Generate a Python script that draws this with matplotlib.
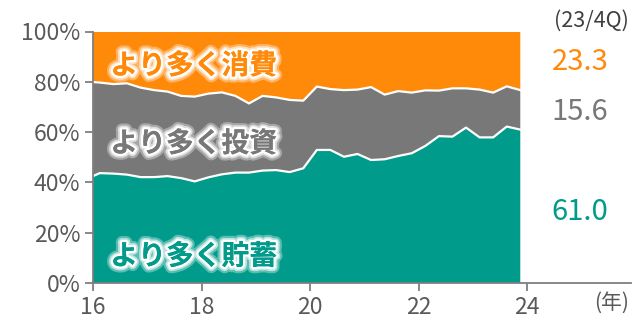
import matplotlib
matplotlib.use("Agg")
import matplotlib.pyplot as plt
import matplotlib.patheffects as pe
import numpy as np

plt.rcParams['font.family'] = ['Noto Sans CJK JP', 'DejaVu Sans']

# Quarterly survey shares (%), 2015Q4 .. 2023Q4
quarters = ["2015Q4"] + [f"{y}Q{q}" for y in range(2016, 2024) for q in range(1, 5)]
savings = [41.3, 43.7, 43.5, 43.1, 42.1, 42.1, 42.5, 41.7, 40.4, 42.0, 43.2, 43.9, 43.9,
           44.7, 44.9, 44.1, 45.6, 52.9, 52.9, 50.2, 51.3, 48.9, 49.2, 50.5, 51.6,
           54.5, 58.4, 58.2, 61.8, 57.9, 57.9, 62.2, 61.0]
investment = [38.8, 36.0, 35.6, 36.3, 35.6, 34.6, 33.6, 32.7, 33.7, 33.3, 32.6, 30.5, 27.5,
              29.7, 28.9, 28.7, 26.9, 25.2, 24.2, 26.5, 25.6, 29.0, 25.7, 25.8, 24.1,
              22.1, 18.1, 19.2, 15.6, 19.0, 17.8, 16.0, 15.7]
consumption = [19.9, 20.3, 20.9, 20.6, 22.3, 23.3, 23.9, 25.6, 25.9, 24.7, 24.2, 25.6, 28.6,
               25.6, 26.2, 27.2, 27.5, 21.9, 22.9, 23.3, 23.1, 22.1, 25.1, 23.7, 24.3,
               23.4, 23.5, 22.6, 22.6, 23.1, 24.3, 21.8, 23.3]
series_names = ["より多く貯蓄", "より多く投資", "より多く消費"]
latest_label = "(23/4Q)"
latest_values = ["61.0", "15.6", "23.3"]
x_ticks = [2016, 2018, 2020, 2022, 2024]
x_ticklabels = ["16", "18", "20", "22", "24"]
y_ticks = [0, 20, 40, 60, 80, 100]

c_teal = "#009B8A"
c_gray = "#787878"
c_orange = "#FF8A0A"
c_text = "#595959"

x = np.array([int(s[:4]) + (int(s[-1]) - 0.5) / 4 for s in quarters])
s = np.array(savings)
inv = np.array(investment)
con = np.array(consumption)

fig = plt.figure(figsize=(6.4, 3.21), dpi=100)
ax = fig.add_axes([93 / 640, 1 - 283 / 321, (631 - 93) / 640, (283 - 31.5) / 321])

ax.stackplot(x, s, inv, con, colors=[c_teal, c_gray, c_orange], linewidth=0)
ax.plot(x, s, color="white", lw=1.6, solid_joinstyle="round")
ax.plot(x, s + inv, color="white", lw=1.6, solid_joinstyle="round")

ax.set_xlim(2016, 2016 + (631 - 92.6) / 54.3)
ax.set_ylim(0, 100)

ax.set_xticks(x_ticks)
ax.set_xticklabels(x_ticklabels)
ax.set_yticks(y_ticks)
ax.set_yticklabels([f"{v}%" for v in y_ticks])

for sp in ["top", "right"]:
    ax.spines[sp].set_visible(False)
for sp in ["left", "bottom"]:
    ax.spines[sp].set_color("#7f7f7f")
    ax.spines[sp].set_linewidth(1.3)
ax.tick_params(axis="both", direction="out", length=6, width=1.3, color="#7f7f7f",
               labelsize=16.5, labelcolor=c_text, pad=3)

# inner labels with white glow
glow = [pe.withStroke(linewidth=9, foreground="white", alpha=0.35),
        pe.withStroke(linewidth=6, foreground="white", alpha=0.6),
        pe.withStroke(linewidth=3.5, foreground="white"),
        pe.Normal()]
label_y = [10.5, 55.3, 86.3]
for name, col, yy in zip(series_names, [c_teal, c_gray, c_orange], label_y):
    ax.text(2016.32, yy, name, color=col, fontsize=20, fontweight="bold",
            ha="left", va="center", path_effects=glow)

fig.text(612 / 640, 1 - 303 / 321, "(年)", ha="center", va="center",
         fontsize=15, color=c_text)

fig.text(591 / 640, 1 - 21 / 321, latest_label, ha="center", va="center",
         fontsize=15.5, color="#404040")
for val, col, yy in zip(latest_values, [c_teal, c_gray, c_orange], [212, 112, 62]):
    fig.text(580 / 640, 1 - yy / 321, val, ha="center", va="center",
             fontsize=21, color=col)

fig.savefig("out.png", dpi=100)
